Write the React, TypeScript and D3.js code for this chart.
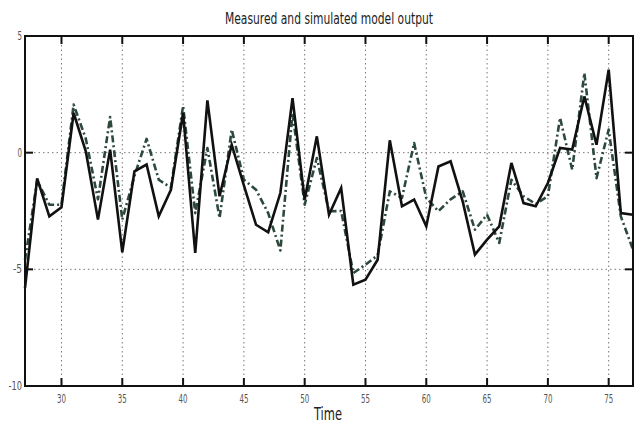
import React from "react";
import * as d3 from "d3";

const times: number[] = d3.range(27, 78);
const measured: number[] = [
  -5.8, -1.1, -2.73, -2.34, 1.7, 0.06, -2.87, 0.13, -4.27, -0.8,
  -0.51, -2.73, -1.59, 1.7, -4.3, 2.24, -1.87, 0.34, -1.4, -3.09,
  -3.41, -1.73, 2.34, -2.01, 0.7, -2.66, -1.51, -5.66, -5.44, -4.59,
  0.53, -2.3, -2.01, -3.16, -0.59, -0.37, -2.1, -4.37, -3.73, -3.16,
  -0.44, -2.16, -2.3, -1.3, 0.2, 0.13, 2.41, 0.34, 3.56, -2.59, -2.66,
];
const simulated: number[] = [
  -4.6, -1.2, -2.23, -2.23, 2.06, 0.6, -2.0, 1.53, -2.87, -1.0,
  0.59, -1.16, -1.5, 2.0, -2.59, 0.2, -2.8, 0.99, -1.16, -1.59,
  -2.59, -4.19, 1.7, -2.23, -0.23, -2.51, -2.5, -5.16, -4.8, -4.4,
  -1.66, -1.94, 0.41, -1.94, -2.51, -2.0, -1.66, -3.3, -2.66, -3.87,
  -1.16, -1.87, -2.2, -1.87, 1.49, -0.73, 3.41, -1.09, 0.99, -2.73, -4.16,
];
const xTicks: number[] = [30, 35, 40, 45, 50, 55, 60, 65, 70, 75];
const yTicks: number[] = [5, 0, -5, -10];
const title = "Measured and simulated model output";
const xLabel = "Time";

const W = 642, H = 423;
const L = 25, R = 633, T = 36, B = 386;
const FONT = "'Liberation Sans Narrow', 'DejaVu Sans Condensed', 'Arial Narrow', 'Liberation Sans', sans-serif";

export default function App() {
  const x = d3.scaleLinear().domain([27, 77]).range([L, R]);
  const y = d3.scaleLinear().domain([-10, 5]).range([B, T]);
  const line = d3.line<number>().x((_, i) => x(times[i])).y((d) => y(d));

  return (
    <svg width={W} height={H} style={{ position: "absolute", left: 0, top: 0, background: "#fff" }}>
      <rect x={0} y={0} width={W} height={H} fill="#fff" />
      {xTicks.map((t) => (
        <line key={"gx" + t} x1={x(t)} x2={x(t)} y1={T} y2={B} stroke="#777" strokeWidth={1} strokeDasharray="1.5,3" />
      ))}
      {yTicks.filter((t) => t > -10 && t < 5).map((t) => (
        <line key={"gy" + t} x1={L} x2={R} y1={y(t)} y2={y(t)} stroke="#777" strokeWidth={1} strokeDasharray="1.5,3" />
      ))}
      <path d={line(simulated) || ""} fill="none" stroke="#2c4a3c" strokeWidth={2.6} strokeDasharray="7,3,2,3" strokeLinejoin="round" />
      <path d={line(measured) || ""} fill="none" stroke="#111" strokeWidth={2.6} strokeLinejoin="miter" />
      <rect x={L} y={T} width={R - L} height={B - T} fill="none" stroke="#111" strokeWidth={2} />
      {xTicks.map((t) => (
        <g key={"tx" + t}>
          <line x1={x(t)} x2={x(t)} y1={B} y2={B - 8} stroke="#111" strokeWidth={2} />
          <line x1={x(t)} x2={x(t)} y1={T} y2={T + 8} stroke="#111" strokeWidth={2} />
          <text x={x(t) - 4.5} y={B + 17} fontSize={12} fill="#555" fontFamily={FONT}
            textLength={9} lengthAdjust="spacingAndGlyphs">{t}</text>
        </g>
      ))}
      {yTicks.map((t) => {
        const s = String(t);
        const w = s.length * 4.5;
        return (
          <g key={"ty" + t}>
            <line x1={L} x2={L + 8} y1={y(t)} y2={y(t)} stroke="#111" strokeWidth={2} />
            <line x1={R} x2={R - 8} y1={y(t)} y2={y(t)} stroke="#111" strokeWidth={2} />
            <text x={L - 3 - w} y={y(t) + 4} fontSize={12} fill="#555" fontFamily={FONT}
              textLength={w} lengthAdjust="spacingAndGlyphs">{s}</text>
          </g>
        );
      })}
      <text x={225} y={24} fontSize={15} fill="#222" fontFamily={FONT}
        textLength={208} lengthAdjust="spacingAndGlyphs">{title}</text>
      <text x={314} y={420} fontSize={18} fill="#222" fontFamily={FONT}
        textLength={28} lengthAdjust="spacingAndGlyphs">{xLabel}</text>
    </svg>
  );
}
